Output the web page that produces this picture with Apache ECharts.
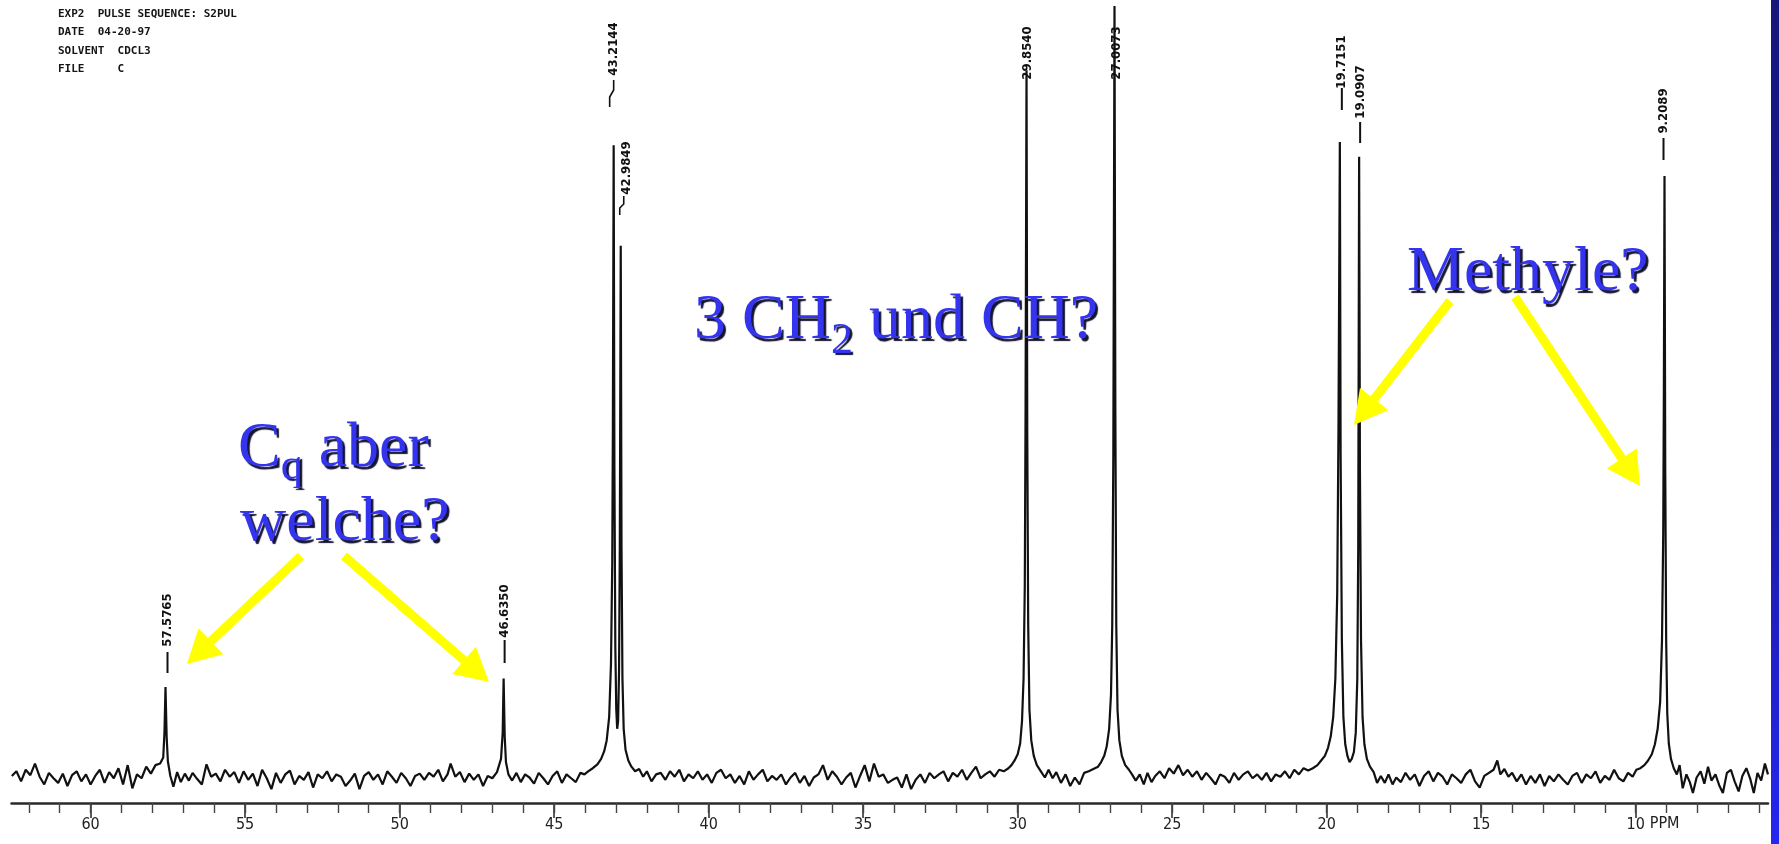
<!DOCTYPE html>
<html><head><meta charset="utf-8">
<script src="https://cdn.jsdelivr.net/npm/echarts@6/dist/echarts.min.js"></script>
<style>html,body{margin:0;padding:0;background:#fff;overflow:hidden}#c{width:1779px;height:844px}</style>
</head><body><div id="c"></div>
<script>
// ---- DATA ----
// 13C spectrum trace: [position on the printed ppm axis, relative intensity]
const spectrum = [
[62.55,0.4],[62.4,1.0],[62.25,-0.3],[62.1,1.2],[61.95,0.5],[61.8,2.0],[61.65,0.3],[61.5,-0.7],[61.35,0.8],[61.2,0.1],
[61.05,-0.5],[60.9,0.7],[60.75,-0.9],[60.6,0.5],[60.45,1.0],[60.3,-0.3],[60.15,0.6],[60.0,-0.7],[59.85,0.4],[59.7,1.2],
[59.55,-0.5],[59.4,0.9],[59.25,0.1],[59.1,1.4],[58.95,-0.7],[58.8,1.8],[58.65,-1.2],[58.5,0.6],[58.35,0.1],[58.2,1.6],
[58.05,0.7],[57.9,1.8],[57.75,2.0],[57.65,2.8],[57.61,6],[57.5765,11.9],[57.54,5.5],[57.5,2.3],[57.42,0.4],[57.32,-1.0],
[57.2,0.9],[57.08,-0.4],[56.95,0.7],[56.82,-0.2],[56.7,0.8],[56.55,0.0],[56.4,-0.7],[56.25,1.9],[56.1,0.3],[55.95,0.7],
[55.8,-0.3],[55.65,1.2],[55.5,0.3],[55.35,0.9],[55.2,-0.5],[55.05,1.0],[54.9,-0.1],[54.75,0.7],[54.6,-0.9],[54.45,1.2],
[54.3,0.1],[54.15,-1.3],[54.0,0.8],[53.85,-0.5],[53.7,0.6],[53.55,1.1],[53.4,-0.7],[53.25,0.4],[53.1,-0.1],[52.95,0.9],
[52.8,-1.1],[52.65,0.6],[52.5,0.1],[52.35,1.0],[52.2,-0.3],[52.05,0.6],[51.9,0.3],[51.75,-0.9],[51.6,-0.2],[51.45,0.7],
[51.3,-1.3],[51.15,0.4],[51.0,0.9],[50.85,-0.1],[50.7,0.6],[50.55,-0.7],[50.4,1.0],[50.25,0.3],[50.1,-0.5],[49.95,0.8],
[49.8,0.1],[49.65,-0.9],[49.5,0.4],[49.35,0.7],[49.2,-0.1],[49.05,0.8],[48.9,0.3],[48.75,1.2],[48.6,-0.3],[48.45,0.6],
[48.35,2.0],[48.2,0.3],[48.05,0.9],[47.9,-0.4],[47.75,0.7],[47.6,-0.1],[47.45,0.6],[47.3,-0.9],[47.15,0.4],[47.0,0.1],
[46.85,0.9],[46.72,2.6],[46.665,6],[46.635,13.0],[46.6,5.5],[46.56,2.2],[46.48,0.6],[46.36,-0.2],[46.22,0.8],[46.08,-0.4],
[45.94,0.6],[45.8,0.2],[45.65,-0.6],[45.5,0.8],[45.35,0.1],[45.2,-0.7],[45.05,0.4],[44.9,1.0],[44.75,-0.5],[44.6,0.6],
[44.45,0.1],[44.3,-0.4],[44.15,0.8],[44.02,0.6],[43.9,1.0],[43.75,1.4],[43.6,1.9],[43.48,2.6],[43.38,3.6],[43.3,5],
[43.22,8],[43.16,15],[43.12,28],[43.1,45],[43.074,82],[43.05,40],[43.02,17],[42.99,9],[42.96,6.5],[42.93,7.5],
[42.9,14],[42.875,30],[42.845,69],[42.82,30],[42.79,13],[42.75,6.5],[42.69,3.8],[42.6,2.4],[42.5,1.6],[42.38,1.0],
[42.25,1.3],[42.12,0.3],[42.0,1.0],[41.85,-0.3],[41.7,0.6],[41.55,0.8],[41.4,-0.1],[41.25,1.0],[41.1,0.3],[40.95,1.2],
[40.8,-0.3],[40.65,0.6],[40.5,0.1],[40.35,1.0],[40.2,-0.1],[40.05,0.6],[39.9,-0.5],[39.75,0.8],[39.6,1.2],[39.45,0.1],
[39.3,0.6],[39.15,-0.5],[39.0,0.4],[38.85,-0.7],[38.7,1.0],[38.55,-0.1],[38.4,0.6],[38.25,1.2],[38.1,-0.3],[37.95,0.4],
[37.8,-0.1],[37.65,0.6],[37.5,-0.7],[37.35,0.2],[37.2,0.8],[37.05,-0.5],[36.9,0.4],[36.75,-0.9],[36.6,0.2],[36.45,0.6],
[36.3,1.8],[36.15,-0.1],[36.0,1.0],[35.85,0.3],[35.7,-0.7],[35.55,0.2],[35.4,0.8],[35.25,-1.1],[35.1,0.4],[34.95,1.8],
[34.8,-0.3],[34.65,2.0],[34.5,0.3],[34.35,0.6],[34.2,-0.5],[34.05,-0.1],[33.9,0.2],[33.75,-1.1],[33.6,0.6],[33.45,-1.3],
[33.3,-0.1],[33.15,0.6],[33.0,-0.5],[32.85,0.8],[32.7,0.1],[32.55,0.6],[32.4,1.0],[32.25,-0.3],[32.1,0.8],[31.95,0.3],
[31.8,1.2],[31.65,-0.1],[31.5,0.8],[31.35,1.6],[31.2,0.1],[31.05,0.6],[30.9,1.0],[30.75,0.3],[30.6,1.2],[30.45,1.0],
[30.3,1.4],[30.2,1.8],[30.1,2.4],[30.0,3.2],[29.92,4.6],[29.86,7.5],[29.81,13],[29.77,25],[29.745,48],[29.714,91.7],
[29.69,45],[29.66,20],[29.62,9],[29.56,5],[29.48,3],[29.38,1.8],[29.25,1.0],[29.12,0.2],[29.0,1.2],[28.87,0.1],
[28.75,0.9],[28.6,-0.5],[28.45,0.6],[28.3,-0.9],[28.15,0.2],[28.0,-0.7],[27.85,0.8],[27.7,1.0],[27.55,1.3],[27.4,1.6],
[27.3,2.2],[27.2,3.0],[27.12,4.2],[27.04,6.5],[26.98,11],[26.94,20],[26.905,42],[26.867,100],[26.84,48],[26.81,20],
[26.77,9],[26.71,5],[26.63,3],[26.52,1.8],[26.4,1.2],[26.3,0.6],[26.18,-0.2],[26.05,0.6],[25.92,-0.7],[25.8,0.8],
[25.67,-0.4],[25.55,0.4],[25.4,1.0],[25.25,0.1],[25.1,1.4],[24.95,0.7],[24.8,1.8],[24.65,0.5],[24.5,1.2],[24.35,0.3],
[24.2,1.0],[24.05,-0.1],[23.9,0.8],[23.75,0.1],[23.6,-0.7],[23.45,0.6],[23.3,0.3],[23.15,-0.5],[23.0,0.8],[22.85,-0.1],
[22.7,0.6],[22.55,1.0],[22.4,0.1],[22.25,0.6],[22.1,-0.1],[21.95,0.8],[21.8,-0.3],[21.65,0.6],[21.5,0.3],[21.35,1.0],
[21.2,0.1],[21.05,1.2],[20.9,0.6],[20.75,1.4],[20.6,1.1],[20.45,1.4],[20.3,1.8],[20.18,2.4],[20.06,3.0],[19.96,4],
[19.87,5.5],[19.79,8],[19.72,13],[19.66,24],[19.62,45],[19.575,82.4],[19.55,42],[19.51,18],[19.46,8],[19.4,4.5],
[19.33,3.0],[19.26,2.2],[19.19,2.6],[19.12,3.5],[19.06,6],[19.01,13],[18.98,30],[18.951,80.5],[18.925,40],[18.89,18],
[18.84,8],[18.78,4.5],[18.7,2.6],[18.6,1.6],[18.48,0.9],[18.37,-0.5],[18.25,0.4],[18.12,-0.5],[18.0,0.6],[17.87,-0.7],
[17.75,0.2],[17.6,-0.4],[17.45,0.8],[17.3,-0.1],[17.15,0.6],[17.0,-0.9],[16.85,0.4],[16.7,1.0],[16.55,-0.3],[16.4,0.8],
[16.25,0.3],[16.1,-0.7],[15.95,0.6],[15.8,0.1],[15.65,-0.5],[15.5,0.6],[15.35,1.2],[15.2,-0.3],[15.05,-1.1],[14.9,0.4],
[14.75,0.8],[14.6,1.2],[14.48,2.4],[14.38,0.6],[14.25,1.3],[14.12,0.3],[14.0,0.8],[13.85,-0.3],[13.7,0.6],[13.55,-0.7],
[13.4,0.4],[13.25,-0.5],[13.1,0.6],[12.95,-0.9],[12.8,0.4],[12.65,-0.3],[12.5,0.6],[12.35,-0.1],[12.2,-0.7],[12.05,0.4],
[11.9,0.8],[11.75,-0.5],[11.6,0.6],[11.45,0.1],[11.3,1.0],[11.15,-0.5],[11.0,0.4],[10.85,-0.1],[10.7,1.2],[10.55,0.1],
[10.4,-0.3],[10.25,0.8],[10.1,0.3],[9.98,1.2],[9.85,1.4],[9.72,1.8],[9.6,2.4],[9.48,3.2],[9.38,4.5],[9.29,6.5],
[9.21,10],[9.15,18],[9.11,32],[9.09,50],[9.069,78],[9.045,40],[9.015,18],[8.98,8.5],[8.93,4.6],[8.86,2.6],
[8.77,1.4],[8.67,0.6],[8.58,1.8],[8.48,-1.2],[8.36,0.6],[8.25,-0.4],[8.15,-1.8],[8.03,0.2],[7.9,1.0],[7.78,-0.6],
[7.66,1.6],[7.55,-0.2],[7.42,0.6],[7.3,-0.8],[7.18,-1.8],[7.05,0.8],[6.92,1.2],[6.8,-0.3],[6.67,-1.6],[6.55,0.4],
[6.42,1.4],[6.3,0.1],[6.18,-1.8],[6.06,0.8],[5.94,-0.2],[5.82,2.0],[5.72,0.6]
];
const majorTicks = [60,55,50,45,40,35,30,25,20,15,10];
const minorTicks = [62,61,60,59,58,57,56,55,54,53,52,51,50,49,48,47,46,45,44,43,42,41,40,39,38,37,36,35,34,33,32,31,30,29,28,27,26,25,24,23,22,21,20,19,18,17,16,15,14,13,12,11,10,9,8,7,6];
// peak positions as drawn on the printed axis, and the shift values printed above them
const peakPositions = [57.5765,46.635,43.074,42.845,29.714,26.867,19.575,18.951,9.069];
const peakLabels = ['57.5765','46.6350','43.2144','42.9849','29.8540','27.0073','19.7151','19.0907','9.2089'];
const headerLines = ['EXP2  PULSE SEQUENCE: S2PUL','DATE  04-20-97','SOLVENT  CDCL3','FILE     C'];
const unitLabel = 'PPM';

// ---- CHART ----
const chart = echarts.init(document.getElementById('c'), null, {renderer:'canvas'});
const X_MIN = 5.72, X_MAX = 62.56;
const tickFont = "'Liberation Sans Narrow','DejaVu Sans Condensed',sans-serif";
chart.setOption({
  animation:false,
  backgroundColor:'#ffffff',
  grid:{left:11.5,right:11,top:0,bottom:41},
  xAxis:[
    {type:'value',min:X_MIN,max:X_MAX,inverse:true,position:'bottom',
     axisLine:{show:true,onZero:false,lineStyle:{color:'#2a2a2a',width:2.5}},
     axisTick:{show:true,customValues:majorTicks,length:15,lineStyle:{color:'#333',width:1.6}},
     axisLabel:{show:true,customValues:majorTicks,margin:14,color:'#222',fontSize:16,fontFamily:tickFont,formatter:v=>String(v)},
     splitLine:{show:false}},
    {type:'value',min:X_MIN,max:X_MAX,inverse:true,position:'bottom',offset:0,
     axisLine:{show:false,onZero:false},
     axisTick:{show:true,customValues:minorTicks,length:10,lineStyle:{color:'#444',width:1.4}},
     axisLabel:{show:false},splitLine:{show:false}}
  ],
  yAxis:{type:'value',min:-3.10,max:100.78,show:false},
  series:[{type:'line',data:spectrum,xAxisIndex:0,symbol:'none',showSymbol:false,silent:true,
    lineStyle:{color:'#111',width:2.2}}]
});

// ---- ANNOTATIONS ----
const px = v => chart.convertToPixel({xAxisIndex:0}, v);
const g = [];
headerLines.forEach((t,i)=>{
  g.push({type:'text',x:58,y:14+i*18.5,style:{text:t,fill:'#151515',font:"bold 11px 'DejaVu Sans Mono',monospace",verticalAlign:'middle'}});
});
const labelLayout = [
  {dx:2, cy:620, mark:[652,673]},
  {dx:1, cy:611, mark:[640,663]},
  {dx:0, cy:49, conn:[[0,80],[0,90],[-4,97],[-4,107]]},
  {dx:6, cy:168, conn:[[-3,196],[-3,204],[-7,208],[-7,215]]},
  {dx:1, cy:53},
  {dx:2, cy:53},
  {dx:2, cy:62, mark:[88,110]},
  {dx:1, cy:92, mark:[122,143]},
  {dx:-1, cy:111, mark:[138,160]}
];
peakPositions.forEach((p,i)=>{
  const L = labelLayout[i];
  const x = px(p) + L.dx;
  g.push({type:'text',x:x,y:L.cy,rotation:Math.PI/2,z:20,
    style:{text:peakLabels[i],fill:'#111',font:"bold 13px 'Liberation Sans Narrow','DejaVu Sans Condensed',sans-serif",align:'center',verticalAlign:'middle'}});
  if (L.mark) g.push({type:'line',z:20,shape:{x1:x,y1:L.mark[0],x2:x,y2:L.mark[1]},style:{stroke:'#111',lineWidth:2}});
  if (L.conn) g.push({type:'polyline',z:20,shape:{points:L.conn.map(q=>[x+q[0],q[1]])},style:{stroke:'#111',lineWidth:1.6,fill:null}});
});
g.push({type:'text',x:px(10)+14,y:824,style:{text:unitLabel,fill:'#222',font:"16px "+tickFont,verticalAlign:'middle'}});

const mctx = document.createElement('canvas').getContext('2d');
function serifRun(parts, x0, baseline){
  let x = x0;
  parts.forEach(p=>{
    const font = p.size+"px 'Liberation Serif','Times New Roman',serif";
    mctx.font = font;
    const w = mctx.measureText(p.t).width;
    const base = baseline + (p.dy||0);
    g.push({type:'text',x:x,y:base-0.3375*p.size,z:40,
      style:{text:p.t,font:font,fill:'#3434ee',verticalAlign:'middle',
        textShadowColor:'rgba(8,8,40,0.95)',textShadowOffsetX:2.5,textShadowOffsetY:2.5,textShadowBlur:1}});
    x += w;
  });
}
serifRun([{t:'3 CH',size:64},{t:'2',size:44,dy:13},{t:' und CH?',size:64}], 694, 343);
serifRun([{t:'Methyle?',size:64}], 1407, 295);
serifRun([{t:'C',size:64},{t:'q',size:44,dy:11},{t:' aber',size:64}], 238, 471);
serifRun([{t:'welche?',size:64}], 240, 545);

function arrow(x1,y1,x2,y2){
  const dx=x2-x1, dy=y2-y1, L=Math.hypot(dx,dy), ux=dx/L, uy=dy/L, nx=-uy, ny=ux;
  const hl=33, hw=18, sw=4.5;
  const bx=x2-ux*hl, by=y2-uy*hl;
  const pts=[[x1+nx*sw,y1+ny*sw],[bx+nx*sw,by+ny*sw],[bx+nx*hw,by+ny*hw],[x2,y2],[bx-nx*hw,by-ny*hw],[bx-nx*sw,by-ny*sw],[x1-nx*sw,y1-ny*sw]];
  g.push({type:'polygon',z:50,shape:{points:pts},style:{fill:'#ffff00'}});
}
arrow(301,556,187,664);
arrow(344,556,489,682);
arrow(1450,301,1354,425);
arrow(1515,297,1640,486);

g.push({type:'rect',z:60,shape:{x:1771,y:0,width:8,height:844},
  style:{fill:new echarts.graphic.LinearGradient(0,0,0,1,[{offset:0,color:'#16167a'},{offset:0.6,color:'#1c1ca8'},{offset:1,color:'#2626f0'}])}});

chart.setOption({graphic:g});
</script>
</body></html>
